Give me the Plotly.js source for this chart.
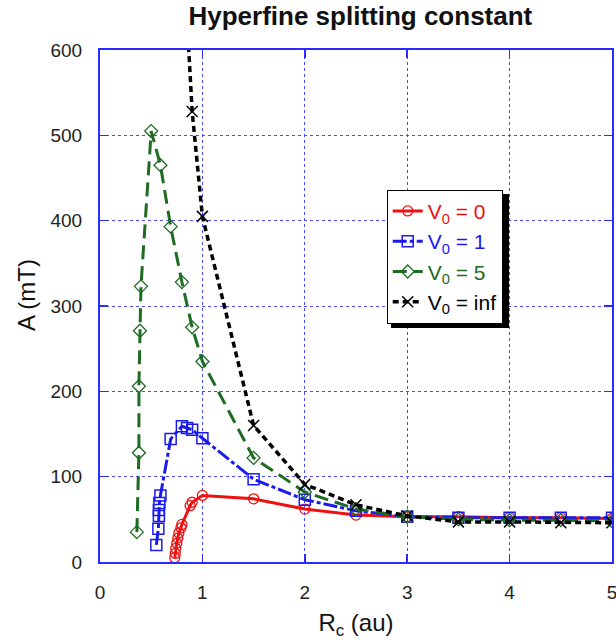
<!DOCTYPE html>
<html>
<head>
<meta charset="utf-8">
<script src="https://cdn.plot.ly/plotly-3.0.1.min.js"></script>
<style>html,body{margin:0;padding:0;background:#fff;}</style>
</head>
<body>
<div id="chart" style="width:616px;height:644px;"></div>
<script>
// V0 = 0
const xV0 = [0.73, 0.735, 0.74, 0.75, 0.76, 0.77, 0.79, 0.80, 0.88, 0.90, 1.0, 1.5, 2.0, 2.5, 3.0, 3.5, 4.0, 4.5, 5.0];
const yV0 = [5, 10, 16, 22, 28, 34, 40, 44, 66, 70, 78, 74, 62, 55, 53, 53, 52, 52, 51];
// V0 = 1
const xV1 = [0.55, 0.57, 0.575, 0.575, 0.58, 0.59, 0.69, 0.80, 0.85, 0.90, 1.0, 1.5, 2.0, 2.5, 3.0, 3.5, 4.0, 4.5, 5.0];
const yV1 = [20, 39, 54, 61, 69, 78, 144, 159, 157, 155, 145, 97, 73, 60, 53, 52, 52, 52, 52];
// V0 = 5
const xV5 = [0.36, 0.38, 0.38, 0.39, 0.40, 0.50, 0.59, 0.69, 0.80, 0.90, 1.0, 1.5, 2.0, 2.5, 3.0, 3.5, 4.0, 4.5, 5.0];
const yV5 = [35, 128, 206, 271, 323, 505, 465, 393, 328, 275, 235, 122, 82, 62, 53, 50, 49, 49, 48];
// V0 = inf
const xVinf = [0.80, 0.90, 1.0, 1.5, 2.0, 2.5, 3.0, 3.5, 4.0, 4.5, 5.0];
const yVinf = [745, 528, 405, 160, 91, 67, 54, 47, 47, 46, 46];

const xTicks = [0, 1, 2, 3, 4, 5];
const yTicks = [0, 100, 200, 300, 400, 500, 600];

const RED = '#ee1111', BLUE = '#1a1aee', GREEN = '#1e6b22', BLACK = '#000000';
const FONT = 'Liberation Sans, Arial, sans-serif';

const traces = [
  {x: xV0, y: yV0, mode: 'lines+markers', name: '<span style="color:' + RED + '">V<sub>0</sub> = 0</span>',
   line: {color: RED, width: 3}, marker: {symbol: 'circle-open', size: 10, color: RED, line: {width: 1.3}}},
  {x: xV1, y: yV1, mode: 'lines+markers', name: '<span style="color:' + BLUE + '">V<sub>0</sub> = 1</span>',
   line: {color: BLUE, width: 3, dash: '14px,3px,4px,3px'}, marker: {symbol: 'square-open', size: 11, color: BLUE, line: {width: 1.5}}},
  {x: xV5, y: yV5, mode: 'lines+markers', name: '<span style="color:' + GREEN + '">V<sub>0</sub> = 5</span>',
   line: {color: GREEN, width: 3, dash: '14px,7px'}, marker: {symbol: 'diamond-open', size: 10, color: GREEN, line: {width: 1.3}}},
  {x: xVinf, y: yVinf, mode: 'lines+markers', name: '<span style="color:' + BLACK + '">V<sub>0</sub> = inf</span>',
   line: {color: BLACK, width: 3.5, dash: '6px,4px'}, marker: {symbol: 'x-thin-open', size: 11, color: BLACK, line: {width: 1.5}}}
];

const axisCommon = {
  showline: true, linecolor: '#2a2aff', linewidth: 2, mirror: 'ticks',
  ticks: 'inside', ticklen: 8, tickwidth: 1.5, tickcolor: '#2a2aff',
  showgrid: true, gridcolor: '#4a4aff', gridwidth: 1, griddash: 'dot',
  zeroline: false, ticklabeloverflow: 'allow', ticklabelstandoff: 12,
  tickfont: {family: FONT, size: 19, color: '#222'}
};

const layout = {
  width: 616, height: 644,
  margin: {l: 100, r: 4, t: 50, b: 82},
  paper_bgcolor: '#fff', plot_bgcolor: '#fff',
  font: {family: FONT, color: '#111'},
  title: {text: '<b>Hyperfine splitting constant</b>', x: 0.585, xanchor: 'center', y: 0.975, yanchor: 'middle',
          font: {size: 26, color: '#111'}},
  xaxis: Object.assign({}, axisCommon, {range: [0, 5], tickvals: xTicks, ticktext: xTicks.map(String),
          title: {text: 'R<sub>c</sub> (au)', font: {size: 24}, standoff: 12}}),
  yaxis: Object.assign({}, axisCommon, {range: [0, 600], tickvals: yTicks, ticktext: yTicks.map(String)}),
  annotations: [
    {text: 'A (mT)', xref: 'paper', yref: 'paper', x: -0.1426, y: 0.5215, textangle: -90,
     showarrow: false, xanchor: 'center', yanchor: 'middle', font: {size: 24, family: FONT, color: '#111'}}
  ],
  showlegend: true,
  legend: {x: 0.56, y: 0.727, xanchor: 'left', yanchor: 'top', bgcolor: '#fff', bordercolor: '#000', borderwidth: 1,
           font: {size: 21, family: FONT}, tracegroupgap: 0},
  // drop shadow behind the legend box
  shapes: [{type: 'rect', xref: 'paper', yref: 'paper', x0: 0.5684, x1: 0.7988, y0: 0.457, y1: 0.7188,
            fillcolor: '#000', line: {width: 0}, layer: 'above'}]
};

Plotly.newPlot('chart', traces, layout, {displayModeBar: false, staticPlot: true});
</script>
</body>
</html>
